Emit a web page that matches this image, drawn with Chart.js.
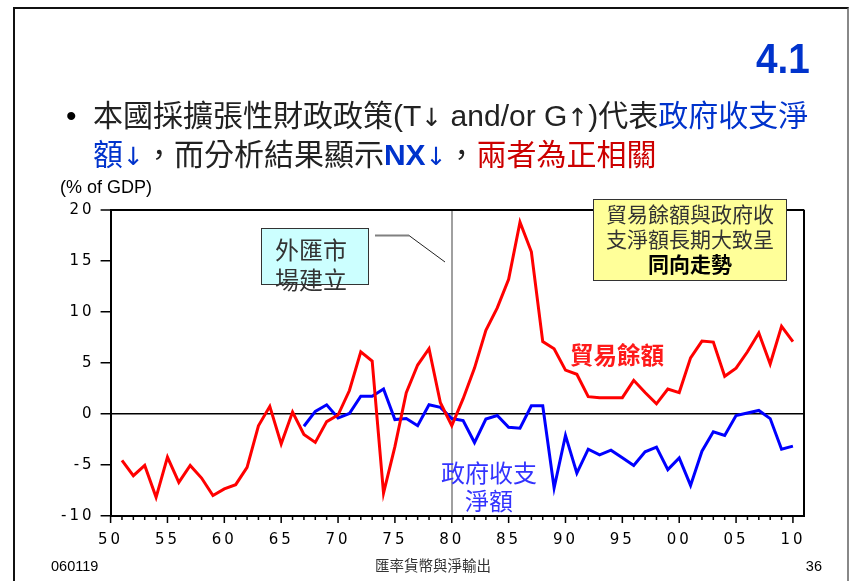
<!DOCTYPE html>
<html>
<head>
<meta charset="utf-8">
<script src="https://cdn.jsdelivr.net/npm/chart.js@4/dist/chart.umd.min.js"></script>
<style>
  body { margin: 0; background: #fff; }
  #slide { position: relative; width: 850px; height: 581px; overflow: hidden;
           font-family: "Liberation Sans", "Noto Sans CJK TC", sans-serif; }
  #frame { position: absolute; left: 13px; top: 7px; width: 836px; height: 600px; box-sizing: border-box;
           border-left: 2px solid #111; border-top: 2px solid #111; border-right: 2px solid #888; }
  canvas { position: absolute; left: 0; top: 0; }
  .txt { position: absolute; white-space: nowrap; }
  .cjk { font-family: "Noto Sans CJK TC", sans-serif; }
  .arrow { font-family: "DejaVu Sans", sans-serif; font-size: 25px; font-weight: normal; }
  .blue { color: #0033cc; }
  .red { color: #cc0000; }
  .box { position: absolute; box-sizing: border-box; border: 1px solid #333; }
</style>
</head>
<body>
<div id="slide">
  <div id="frame"></div>
  <canvas id="chart" width="850" height="581"></canvas>

  <div class="txt blue" style="right:40px; top:37px; font-size:43px; line-height:43px; font-weight:bold; transform:scaleX(0.9); transform-origin:right center;">4.1</div>
  <div class="txt" style="left:66px; top:98px; font-size:30px; line-height:36.5px;">•</div>
  <div class="txt" style="left:93px; top:98px; font-size:30px; line-height:36.5px; color:#222;">本國採擴張性財政政策(T<span class="arrow">↓</span> and/or G<span class="arrow">↑</span>)代表<span class="blue">政府收支淨</span><br><span class="blue">額<span class="arrow">↓</span></span>，而分析結果顯示<b class="blue">NX<span class="arrow">↓</span></b>，<span class="red">兩者為正相關</span></div>
  <div class="txt" style="left:60px; top:178px; font-size:18px; line-height:18px;">(% of GDP)</div>

  <!-- callout boxes -->
  <div class="box" style="left:261px; top:228px; width:108px; height:57px; background:#ccffff;"></div>
  <div class="txt cjk" style="left:275px; top:233.5px; font-size:24px; line-height:30px; color:#333;">外匯市<br>場建立</div>
  <svg style="position:absolute; left:0; top:0;" width="850" height="581">
    <line x1="375" y1="235.5" x2="409" y2="235.5" stroke="#808080" stroke-width="2"/>
    <line x1="409" y1="235.5" x2="445" y2="262" stroke="#222" stroke-width="1"/>
  </svg>

  <div class="box" style="left:593px; top:199px; width:194px; height:82px; background:#ffff99;"></div>
  <div class="txt cjk" style="left:593px; top:201.3px; width:194px; text-align:center; font-size:21px; line-height:25px; color:#333;">貿易餘額與政府收<br>支淨額長期大致呈<br><b style="color:#000;">同向走勢</b></div>

  <div class="txt cjk" style="left:570px; top:341.7px; font-size:23.5px; line-height:24px; font-weight:bold; color:#ff1a1a;">貿易餘額</div>
  <div class="txt cjk" style="left:429px; top:458px; width:120px; text-align:center; font-size:24px; line-height:27.5px; color:#3333ff;">政府收支<br>淨額</div>

  <div class="txt" style="left:51px; top:558.5px; font-size:14.5px; line-height:15px;">060119</div>
  <div class="txt" style="left:333px; top:559px; width:200px; text-align:center; font-size:14.5px; line-height:15px; color:#333;">匯率貨幣與淨輸出</div>
  <div class="txt" style="right:28px; top:558.5px; font-size:14.5px; line-height:15px;">36</div>
</div>

<script>
// trade balance and government net balance, % of GDP
const years = Array.from({ length: 60 }, (_, i) => 1951 + i);
const tradeBalance = [
  -4.55, -6.05, -5.04, -8.17, -4.22, -6.7, -5.04, -6.28, -8.0, -7.35,
  -6.93, -5.23, -1.15, 0.75, -2.94, 0.2, -2.0, -2.78, -0.75, -0.1,
  2.3, 6.1, 5.2, -7.75, -3.2, 2.1, 4.8, 6.4, 1.1, -1.15,
  1.5, 4.5, 8.2, 10.4, 13.2, 18.8, 15.9, 7.1, 6.4, 4.3,
  3.9, 1.7, 1.6, 1.6, 1.6, 3.3, 2.1, 1.0, 2.45, 2.1,
  5.5, 7.15, 7.05, 3.7, 4.5, 6.1, 7.95, 4.9, 8.6, 7.1
];
const govYears = years.slice(16); // 1967 onward
const govBalance = [
  -1.2, 0.25, 0.9, -0.4, 0.05, 1.75, 1.75, 2.45, -0.55, -0.45,
  -1.15, 0.9, 0.65, -0.45, -0.65, -2.8, -0.5, -0.15, -1.3, -1.4,
  0.8, 0.8, -7.25, -2.1, -5.8, -3.45, -4.0, -3.55, -4.3, -5.05,
  -3.7, -3.25, -5.45, -4.3, -7.0, -3.65, -1.75, -2.1, -0.15, 0.1,
  0.35, -0.45, -3.45, -3.15
];

const xTickLabels = ['50', '55', '60', '65', '70', '75', '80', '85', '90', '95', '00', '05', '10'];
const yTickValues = [-10, -5, 0, 5, 10, 15, 20];
const yTickLabels = ['-10', '-5', '0', '5', '10', '15', '20'];

const firstYear = 1950;
const lastYear = 2010;
const axisEndYear = 2011;
const fxMarketYear = 1980;

const tickFont = { family: 'DejaVu Sans', size: 15 };

// spaced-out tick labels plus short yearly / longer 5-year ticks under the x axis
const axisExtras = {
  id: 'axisExtras',
  beforeDraw(chart) {
    chart.ctx.letterSpacing = '3px';
  },
  afterDraw(chart) {
    const { ctx } = chart;
    const x = chart.scales.x;
    ctx.save();
    ctx.strokeStyle = '#000';
    ctx.lineWidth = 1.5;
    ctx.beginPath();
    x.ticks.forEach(t => {
      if (t.value > lastYear) return;
      const px = x.getPixelForValue(t.value);
      const len = t.value % 5 === 0 ? 7 : 4;
      ctx.moveTo(px, x.top);
      ctx.lineTo(px, x.top + len);
    });
    ctx.stroke();
    ctx.restore();
  }
};

new Chart(document.getElementById('chart'), {
  type: 'line',
  data: {
    datasets: [
      {
        label: '貿易餘額',
        data: years.map((yr, i) => ({ x: yr, y: tradeBalance[i] })),
        borderColor: '#ff0000',
        borderWidth: 3,
        pointRadius: 0,
        tension: 0
      },
      {
        label: '政府收支淨額',
        data: govYears.map((yr, i) => ({ x: yr, y: govBalance[i] })),
        borderColor: '#0000ff',
        borderWidth: 3,
        pointRadius: 0,
        tension: 0
      }
    ]
  },
  options: {
    responsive: false,
    animation: false,
    devicePixelRatio: 1,
    layout: { padding: { left: 0, right: 45.7, top: 210, bottom: 0 } },
    plugins: { legend: { display: false }, tooltip: { enabled: false } },
    scales: {
      x: {
        type: 'linear',
        min: firstYear,
        max: axisEndYear,
        afterFit: s => { s.height = 65; },
        border: { color: '#000', width: 2 },
        grid: {
          drawTicks: false,
          color: c => c.tick.value === fxMarketYear ? '#a0a0a0' : c.tick.value === axisEndYear ? '#000' : 'rgba(0,0,0,0)',
          lineWidth: c => (c.tick.value === fxMarketYear || c.tick.value === axisEndYear) ? 2 : 1
        },
        ticks: {
          stepSize: 1,
          autoSkip: false,
          maxRotation: 0,
          padding: 15,
          color: '#000',
          font: tickFont,
          callback: v => (v % 5 === 0 && v <= lastYear) ? xTickLabels[(v - firstYear) / 5] : ''
        }
      },
      y: {
        min: -10,
        max: 20,
        afterFit: s => { s.width = 110.6; },
        border: { color: '#000', width: 2 },
        grid: {
          color: c => (c.tick.value === 0 || c.tick.value === 20) ? '#000' : 'rgba(0,0,0,0)',
          lineWidth: c => c.tick.value === 20 ? 2 : 1.5,
          tickLength: 10,
          tickColor: '#000',
          tickWidth: 1.5
        },
        ticks: {
          stepSize: 5,
          padding: 6,
          color: '#000',
          font: tickFont,
          callback: v => yTickLabels[yTickValues.indexOf(v)]
        }
      }
    }
  },
  plugins: [axisExtras]
});
</script>
</body>
</html>
